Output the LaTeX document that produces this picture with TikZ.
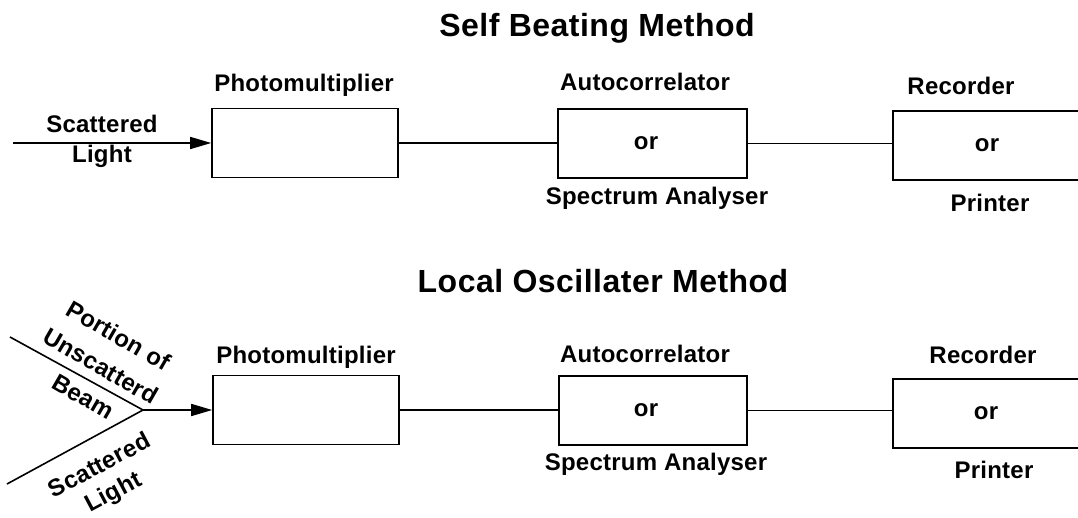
\documentclass[tikz,border=0pt]{standalone}
\usepackage{fontspec}
\setmainfont{Liberation Sans}
\usetikzlibrary{arrows.meta}
\begin{document}
\begin{tikzpicture}[x=1pt,y=-1pt,
  box/.style={draw, line width=1.6pt, minimum width=#1, minimum height=69pt, inner sep=0pt},
  ghost/.style={minimum width=#1, minimum height=69pt, inner sep=0pt},
  wire/.style={line width=1.6pt},
  arr/.style={line width=1.6pt, -{Triangle[length=21pt,width=12pt]}},
  ttl/.style={font=\fontsize{32}{36}\selectfont\bfseries\addfontfeatures{LetterSpace=1.5}, inner sep=0pt, anchor=base},
  lbl/.style={font=\fontsize{24}{28}\selectfont\bfseries\addfontfeatures{LetterSpace=1}, inner sep=0pt, anchor=base},
  rlbl/.style={inner sep=0pt, anchor=center, align=center}
]
\useasboundingbox (0,0) rectangle (1078,518);

% ---------- Self Beating Method ----------
\node[ttl] (title1) at (597,37) {Self Beating Method};

\node[box=186pt] (pm1) at (305,143) {};
\node[box=189pt] (ac1) at (652.5,143.5) {};
\node[ghost=200pt] (rec1) at (993,145.5) {};
\draw[line width=1.6pt] (1078,111) -| (rec1.west) |- (1078,180);

\node[lbl] (pml1) at (304,92) {Photomultiplier};
\node[lbl] (acl1) at (645,91) {Autocorrelator};
\node[lbl] (aco1) at (646,149.5) {or};
\node[lbl] (acs1) at (657,205) {Spectrum Analyser};
\node[lbl] (recl1) at (961,95) {Recorder};
\node[lbl] (reco1) at (987,152) {or};
\node[lbl] (recp1) at (990,212) {Printer};

\coordinate (in1) at (13,143);
\draw[arr] (in1) -- (pm1.west);
\node[lbl] (sc1) at (102,133) {Scattered};
\node[lbl] (li1) at (102,163) {Light};

\draw[wire] (pm1.east) -- (ac1.west |- pm1.east);
\draw[wire] (ac1.east) -- (rec1.west |- ac1.east);

% ---------- Local Oscillater Method ----------
\node[ttl] (title2) at (603,293) {Local Oscillater Method};

\node[box=186pt] (pm2) at (306,410) {};
\node[box=188pt] (ac2) at (653,410.5) {};
\node[ghost=200pt] (rec2) at (993,413.5) {};
\draw[line width=1.6pt] (1078,379) -| (rec2.west) |- (1078,448);

\node[lbl] (pml2) at (306,363) {Photomultiplier};
\node[lbl] (acl2) at (645,362) {Autocorrelator};
\node[lbl] (aco2) at (646,416.5) {or};
\node[lbl] (acs2) at (656,470) {Spectrum Analyser};
\node[lbl] (recl2) at (983,363) {Recorder};
\node[lbl] (reco2) at (986,419) {or};
\node[lbl] (recp2) at (994,478) {Printer};

\coordinate (j) at (143,410);
\coordinate (ub) at (10,337);
\coordinate (sl) at (7,484);
\draw[wire] (ub) -- (j) -- (sl);
\draw[arr] (j) -- (pm2.west);

\node[rlbl, rotate=-30, font=\fontsize{24}{35}\selectfont\bfseries\addfontfeatures{LetterSpace=1}] (beam) at (101,366) {Portion of\\Unscatterd\\Beam};
\node[rlbl, rotate=28, font=\fontsize{24}{30}\selectfont\bfseries\addfontfeatures{LetterSpace=1}] (scl2) at (107,480) {Scattered\\Light};

\draw[wire] (pm2.east) -- (ac2.west |- pm2.east);
\draw[wire] (ac2.east) -- (rec2.west |- ac2.east);
\end{tikzpicture}
\end{document}
